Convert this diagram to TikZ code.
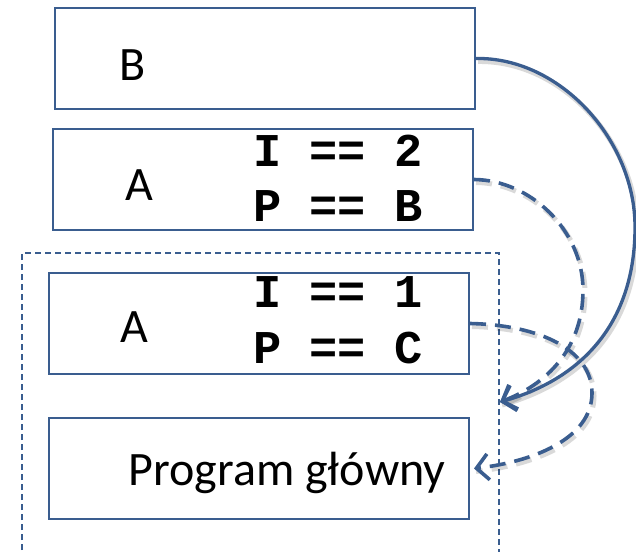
\documentclass[tikz,border=0pt]{standalone}
\usepackage{fontspec}
\setmainfont{Carlito}
\newfontfamily\codefont{Liberation Mono}
\usetikzlibrary{arrows.meta}
\definecolor{ln}{HTML}{3A5D8F}
\begin{document}
\begin{tikzpicture}[x=1pt,y=-1pt,
  box/.style={draw=ln, line width=2pt, minimum width=420pt, minimum height=101pt, inner sep=0pt, anchor=north west},
  lbl/.style={font=\fontsize{48}{56}\selectfont, inner sep=0pt, anchor=base},
  code/.style={font=\fontsize{47}{56}\selectfont\codefont\bfseries, inner sep=0pt, anchor=base},
  frame/.style={draw=ln, line width=1.6pt, dash pattern=on 6pt off 4pt},
  link/.style={draw=ln, line width=3.3pt, -{Straight Barb[length=12pt,width=26pt]}},
  dlink/.style={link, line width=3.6pt, dash pattern=on 16pt off 9pt},
  shad/.style={draw=black, opacity=0.15, line width=5pt, transform canvas={shift={(2pt,-3pt)}}}
]
\useasboundingbox (0,0) rectangle (636,551);

% dashed frame (open at the bottom)
\draw[frame] (22,560) -- (22,253) -- (499,253) -- (499,560);

% boxes
\node[box] (bB)  at (54,7)   {};
\node[box] (bA2) at (52,128) {};
\node[box] (bA1) at (48,272) {};
\node[box] (bPG) at (48,417) {};

% texts
\node[lbl] (tB)  at (133,80)  {B};
\node[lbl] (tA2) at (139,200) {A};
\node[code] (c2a) at (338,166) {I == 2};
\node[code] (c2b) at (338,221) {P == B};
\node[lbl] (tA1) at (134,342) {A};
\node[code] (c1a) at (338,307) {I == 1};
\node[code] (c1b) at (338,363) {P == C};
\node[lbl] (tPG) at (287,485) {Program główny};

% connector targets
\coordinate (ret) at (500,402);
\coordinate (pgin) at ([xshift=4pt]bPG.east);

% shadows
\draw[shad] (bB.east) .. controls (560,57) and (635,140) .. (635,227)
                      .. controls (635,320) and (585,378) .. (ret);
\draw[shad, dash pattern=on 16pt off 9pt] (bA2.east) .. controls (530,180) and (583,230) .. (583,290)
                      .. controls (583,350) and (545,385) .. (ret);
\draw[shad, dash pattern=on 16pt off 9pt] (bA1.east) .. controls (540,325) and (592,350) .. (592,393)
                      .. controls (592,440) and (530,462) .. (pgin);

% connectors
\draw[link] (bB.east) .. controls (560,57) and (635,140) .. (635,227)
                      .. controls (635,320) and (585,378) .. (ret);
\draw[dlink] (bA2.east) .. controls (530,180) and (583,230) .. (583,290)
                      .. controls (583,350) and (545,385) .. (ret);
\draw[dlink] (bA1.east) .. controls (540,325) and (592,350) .. (592,393)
                      .. controls (592,440) and (530,462) .. (pgin);
\end{tikzpicture}
\end{document}
